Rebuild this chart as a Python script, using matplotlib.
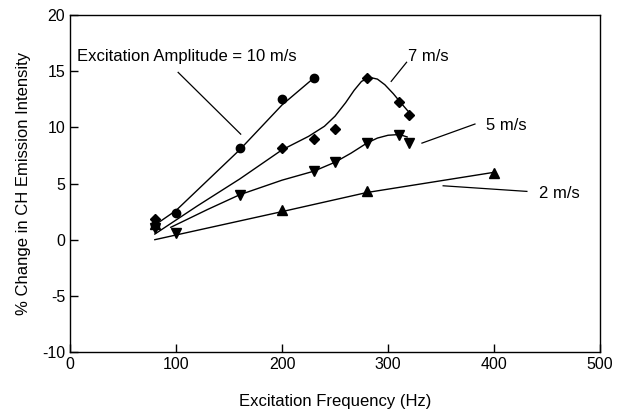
import numpy as np
import matplotlib
matplotlib.use('Agg')
import matplotlib.pyplot as plt

plt.rcParams['font.family'] = ['Liberation Sans', 'DejaVu Sans']
plt.rcParams['font.size'] = 12
plt.rcParams['axes.unicode_minus'] = False

# measured points
freq_10 = [80, 100, 160, 200, 230]
chg_10 = [1.3, 2.4, 8.2, 12.5, 14.4]
freq_7 = [80, 200, 230, 250, 280, 310, 320]
chg_7 = [1.8, 8.2, 9.0, 9.9, 14.4, 12.3, 11.1]
freq_5 = [80, 100, 160, 230, 250, 280, 310, 320]
chg_5 = [1.0, 0.6, 4.0, 6.1, 6.9, 8.6, 9.3, 8.6]
freq_2 = [80, 200, 280, 400]
chg_2 = [1.4, 2.6, 4.3, 5.9]

# fitted curves
fit10_x = [80, 100, 160, 200, 230]
fit10_y = [1.3, 2.6, 8.0, 12.0, 14.4]
fit7_x = [80, 120, 160, 200, 225, 240, 250, 260, 268, 275, 283, 290, 297, 305, 312, 322]
fit7_y = [0.5, 3.0, 5.4, 8.0, 9.2, 10.1, 11.0, 12.2, 13.3, 14.1, 14.45, 14.3, 13.8, 13.0, 12.2, 11.1]
fit5_x = [95, 130, 160, 200, 230, 250, 265, 280, 290, 300, 308, 313, 318]
fit5_y = [1.1, 2.7, 4.0, 5.3, 6.1, 6.9, 7.7, 8.6, 9.05, 9.3, 9.35, 9.3, 9.15]
fit2_x = [80, 200, 280, 400]
fit2_y = [0.0, 2.5, 4.2, 6.0]

fig = plt.figure(figsize=(6.17, 4.2), dpi=100)
ax = fig.add_axes([0.1135, 0.162, 0.859, 0.802])

ax.plot(fit10_x, fit10_y, color='black', lw=1)
ax.plot(fit7_x, fit7_y, color='black', lw=1)
ax.plot(fit5_x, fit5_y, color='black', lw=1)
ax.plot(fit2_x, fit2_y, color='black', lw=1)

ax.plot(freq_10, chg_10, 'o', color='black', ms=6, ls='none')
ax.plot(freq_7, chg_7, 'D', color='black', ms=5.5, ls='none')
ax.plot(freq_5, chg_5, 'v', color='black', ms=7.5, ls='none')
ax.plot(freq_2, chg_2, '^', color='black', ms=7.5, ls='none')

# labels with leader lines
ax.text(6.5, 16.3, 'Excitation Amplitude = 10 m/s', va='center', ha='left')
ax.plot([102, 161], [14.9, 9.4], color='black', lw=0.9)
ax.text(319, 16.3, '7 m/s', va='center', ha='left')
ax.plot([317.5, 303], [15.8, 14.1], color='black', lw=0.9)
ax.text(392, 10.2, '5 m/s', va='center', ha='left')
ax.plot([382, 332], [10.3, 8.6], color='black', lw=0.9)
ax.text(442, 4.1, '2 m/s', va='center', ha='left')
ax.plot([431, 352], [4.3, 4.8], color='black', lw=0.9)

ax.set_xlim(0, 500)
ax.set_ylim(-10, 20)
ax.set_xticks([0, 100, 200, 300, 400, 500])
ax.set_yticks([-10, -5, 0, 5, 10, 15, 20])
ax.tick_params(direction='in', length=6, width=1, labelsize=11.5, top=False, right=False)
ax.set_xlabel('Excitation Frequency (Hz)', fontsize=12, labelpad=16)
ax.set_ylabel('% Change in CH Emission Intensity', fontsize=12, labelpad=8)
for s in ax.spines.values():
    s.set_linewidth(1)

fig.savefig('out.png', dpi=100)
